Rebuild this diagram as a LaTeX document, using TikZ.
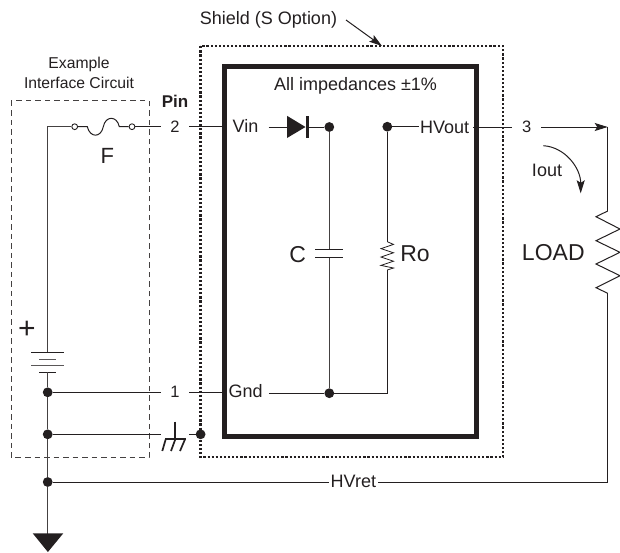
\documentclass[tikz,border=0pt]{standalone}
\usepackage{fontspec}
\setmainfont{Liberation Sans}
\usetikzlibrary{arrows.meta}
\definecolor{ink}{RGB}{35,31,32}
\newcommand{\fsz}[1]{\fontsize{#1}{#1}\selectfont}
\tikzset{
  wire/.style={draw=ink,line width=1pt},
  gwire/.style={draw=ink!85,line width=1.3pt},
  lbl/.style={inner sep=0pt,text=ink,font=\fsz{18}},
  biglbl/.style={inner sep=0pt,text=ink,font=\fsz{23}},
  pinlbl/.style={lbl,font=\fsz{16.5},minimum width=28.4pt},
  dot/.style={circle,fill=ink,draw=none,inner sep=0pt,minimum size=9.8pt},
  ring/.style={circle,draw=ink,fill=white,line width=0.9pt,inner sep=0pt,minimum size=5.8pt},
  shieldbox/.style={draw=ink,line width=2.3pt,dash pattern=on 2.2pt off 1.9pt},
  ifacebox/.style={draw=ink!85,line width=0.9pt,dash pattern=on 5.5pt off 4pt},
  corebox/.style={draw=ink,line width=5pt},
  plate/.style={draw=ink,line width=1pt},
  chassis/.style={draw=ink,line width=1.7pt},
  tip/.style={-{Stealth[length=13pt,width=8pt,inset=2.5pt]}}
}
\begin{document}
\begin{tikzpicture}[x=1pt,y=-1pt]
\useasboundingbox (0,0) rectangle (620,552);
% boxes
\draw[shieldbox] (200.4,46.2) rectangle (502.7,457.3);
\draw[corebox] (224.5,66.5) rectangle (476.6,436.8);
\draw[ifacebox] (11,100.8) rectangle (149,457.3);
% labels
\node[lbl] (shield) at (268.5,20) {Shield (S Option)};
\coordinate (sa) at (346,20);
\coordinate (sb) at (382,46);
\draw[wire,tip] (sa) -- (sb);
\node[lbl,font=\fsz{15.7}] (ex1) at (79,64) {Example};
\node[lbl,font=\fsz{15.7}] (ex2) at (79,83) {Interface Circuit};
\node[lbl,font=\fsz{17}\bfseries] (pin) at (175,101) {Pin};
\node[lbl] (all) at (355.5,86) {All impedances ±1\%};
\node[pinlbl] (p2) at (174.9,126.7) {2};
\node[pinlbl] (p1) at (174.9,392.3) {1};
\node[pinlbl] (p3) at (526.8,127) {3};
\node[lbl,inner xsep=10pt] (vin) at (245.5,125.5) {Vin};
\node[lbl,inner xsep=6pt] (gnd) at (245.7,391.5) {Gnd};
\node[lbl,inner xsep=0pt] (hv) at (444.7,127) {HVout};
\node[lbl,inner xsep=2pt] (hvr) at (353.4,481.5) {HVret};
\node[lbl] (iout) at (547,170) {Iout};
\node[lbl,font=\fsz{22}] (F) at (107.3,156) {F};
\node[biglbl] (C) at (297.6,255) {C};
\node[biglbl] (Ro) at (415,254) {Ro};
\node[biglbl] (load) at (553.3,253) {LOAD};
\node[lbl,font=\fsz{30}] (plus) at (27,330) {+};
% junctions
\node[dot] (d1) at (329.3,127) {};
\node[dot] (d2) at (387.3,126.7) {};
\node[dot] (d3) at (329.3,393.2) {};
\node[dot] (j1) at (47.7,392.3) {};
\node[dot] (j2) at (47.7,434.3) {};
\node[dot] (j3) at (47.7,482) {};
\node[dot] (j4) at (200.6,434.3) {};
\node[ring] (r1) at (74.7,126.7) {};
\node[ring] (r2) at (132,126.7) {};
% named points
\coordinate (tl) at (47.7,126.7);
\coordinate (coreVin) at (222,126.7);
\coordinate (coreGnd) at (222,392.3);
\coordinate (bat1) at (47.7,352.7);
\coordinate (bat2) at (47.7,372.3);
\coordinate (gt) at (47.7,533.5);
\coordinate (rt) at (607.7,127);
\coordinate (rb) at (607.7,482);
\coordinate (lt) at (607.7,211);
\coordinate (lb) at (607.7,293.3);
\coordinate (da) at (287,127);
\coordinate (cgnd) at (387.3,393.2);
\coordinate (cp1) at (329.3,249);
\coordinate (cp2) at (329.3,257.7);
\coordinate (rot) at (387.3,241.7);
\coordinate (rob) at (387.3,270);
\coordinate (hvw) at (419.3,126.7);
\coordinate (hva) at (473,127);
\coordinate (ch1) at (160.7,434.3);
\coordinate (ch2) at (189,434.3);
% fuse
\draw[wire] (r1) -- (87.3,126.7) .. controls (90,138) and (101,138) .. (103.3,126.7)
   .. controls (105.5,115.5) and (117,115.5) .. (119.3,126.7) -- (r2);
% left rail
\draw[gwire] (r1) -- (tl) -- (bat1);
\draw[wire] (r2) -- (p2);
\draw[wire] (p2) -- (coreVin);
% battery
\draw[plate] (31,352.7) -- (64.3,352.7);
\draw[plate,draw=ink!75] (39.3,359.3) -- (56,359.3);
\draw[plate,draw=ink!75] (31,365.7) -- (64.3,365.7);
\draw[plate] (39.3,372.3) -- (56,372.3);
\draw[gwire] (bat2) -- (j1) -- (j2) -- (j3) -- (gt);
\fill[ink] (32.7,533.3) -- (63.3,533.3) -- (47.9,552) -- cycle;
% pin 1 and chassis
\draw[wire] (j1) -- (p1);
\draw[wire] (p1) -- (coreGnd);
\draw[wire] (j2) -- (ch1);
\draw[wire] (ch2) -- (j4);
\draw[chassis] (175.3,421.7) -- (175.3,439.3);
\draw[chassis] (165.2,439.3) -- (185.5,439.3);
\draw[chassis] (165.7,439.3) -- (162.3,451);
\draw[chassis] (175.3,439.3) -- (171,451);
\draw[chassis] (185,439.3) -- (180,451);
% HVret
\draw[wire] (j3) -- (hvr.west |- j3);
\draw[wire] (hvr.east |- rb) -- (rb) -- (lb);
% diode
\draw[wire] (vin.east |- da) -- (da);
\fill[ink] (287,115.8) -- (305.5,127) -- (287,138) -- cycle;
\draw[draw=ink,line width=3pt] (307.5,116) -- (307.5,138);
\draw[wire] (307.5,127) -- (d1);
% C
\draw[gwire] (d1) -- (cp1);
\draw[plate] (315,249) -- (342.5,249);
\draw[plate] (315,257.7) -- (342.5,257.7);
\draw[gwire] (cp2) -- (d3);
% Gnd wire
\draw[wire] (gnd.east |- d3) -- (d3);
\draw[wire] (d3) -- (cgnd) -- (rob);
% Ro
\draw[wire] (d2) -- (hvw);
\draw[wire] (d2) -- (rot);
\draw[draw=ink,line width=.8pt] (rot) -- (393.5,244.4) -- (381,248.6) -- (393.5,252.8) -- (381,257) -- (393.5,261.2) -- (381,265.4) -- (393.5,268) -- (rob);
% HVout to 3
\draw[wire] (hva) -- (p3);
\draw[wire,tip] (p3) -- (rt);
\draw[wire] (rt) -- (lt);
% LOAD
\draw[wire] (lt) -- (596,216.7) -- (620,229) -- (596,240.7) -- (620,252.3) -- (596,264) -- (620,275.7) -- (596,287.7) -- (lb);
% Iout arrow
\coordinate (ia) at (543.3,145.7);
\coordinate (ib) at (580.7,193.3);
\draw[wire,tip] (ia) .. controls (565,147) and (580.7,168) .. (ib);
\end{tikzpicture}
\end{document}
